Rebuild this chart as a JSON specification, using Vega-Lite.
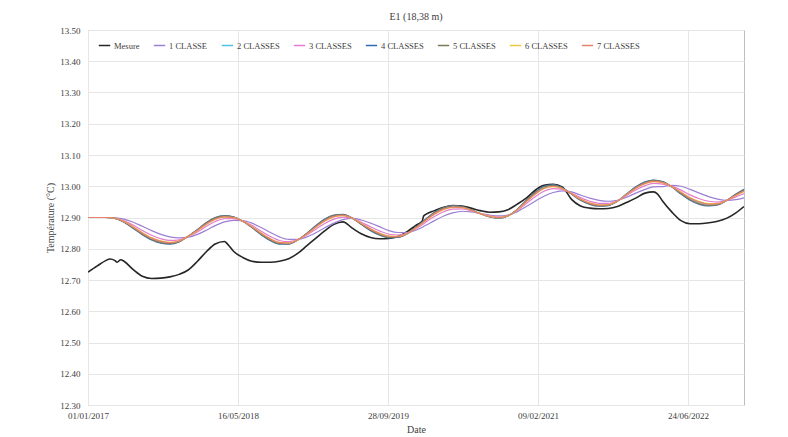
{
  "$schema": "https://vega.github.io/schema/vega-lite/v6.json",
  "width": 656,
  "height": 375,
  "autosize": "none",
  "padding": {"left": 88, "top": 30, "right": 44, "bottom": 32},
  "background": "white",
  "title": {"text": "E1 (18,38 m)", "font": "Liberation Serif", "fontSize": 10, "fontWeight": "normal", "color": "#404040", "offset": 4},
  "config": {
    "view": {"stroke": "#bfbfbf", "strokeWidth": 1},
    "axis": {"labelFont": "Liberation Serif", "labelFontSize": 9, "labelColor": "#404040", "titleFont": "Liberation Serif", "titleFontSize": 10, "titleFontWeight": "normal", "titleColor": "#404040", "gridColor": "#e6e6e6", "domainColor": "#bfbfbf", "ticks": false}
  },
  "data": {"values": [
    {"d":"2017-01-01","m":12.725,"c1":12.9,"c2":12.9,"c3":12.9,"c4":12.9,"c5":12.9,"c6":12.9,"c7":12.9},
    {"d":"2017-02-01","m":12.745,"c1":12.9,"c2":12.9,"c3":12.9,"c4":12.9,"c5":12.9,"c6":12.9,"c7":12.9},
    {"d":"2017-03-01","m":12.762,"c1":12.9,"c2":12.9,"c3":12.9,"c4":12.9,"c5":12.9,"c6":12.9,"c7":12.9},
    {"d":"2017-03-15","m":12.767},
    {"d":"2017-04-01","m":12.762,"c1":12.899,"c2":12.8973,"c3":12.898,"c4":12.897,"c5":12.8971,"c6":12.8975,"c7":12.8974},
    {"d":"2017-04-08","m":12.757},
    {"d":"2017-04-20","m":12.765},
    {"d":"2017-05-01","m":12.76,"c1":12.895,"c2":12.8865,"c3":12.89,"c4":12.885,"c5":12.8855,"c6":12.8875,"c7":12.887},
    {"d":"2017-06-01","m":12.733,"c1":12.885,"c2":12.868,"c3":12.875,"c4":12.865,"c5":12.866,"c6":12.87,"c7":12.869},
    {"d":"2017-07-01","m":12.712,"c1":12.872,"c2":12.849,"c3":12.8585,"c4":12.845,"c5":12.8464,"c6":12.8518,"c7":12.8504},
    {"d":"2017-08-01","m":12.705,"c1":12.858,"c2":12.8325,"c3":12.843,"c4":12.828,"c5":12.8295,"c6":12.8355,"c7":12.834},
    {"d":"2017-09-01","m":12.706,"c1":12.846,"c2":12.8222,"c3":12.832,"c4":12.818,"c5":12.8194,"c6":12.825,"c7":12.8236},
    {"d":"2017-10-01","m":12.71,"c1":12.838,"c2":12.8185,"c3":12.8265,"c4":12.815,"c5":12.8162,"c6":12.8208,"c7":12.8196},
    {"d":"2017-11-01","m":12.718,"c1":12.835,"c2":12.824,"c3":12.8285,"c4":12.822,"c5":12.8227,"c6":12.8253,"c7":12.8246},
    {"d":"2017-12-01","m":12.732,"c1":12.837,"c2":12.8396,"c3":12.8385,"c4":12.84,"c5":12.8399,"c6":12.8393,"c7":12.8394},
    {"d":"2018-01-01","m":12.76,"c1":12.846,"c2":12.8596,"c3":12.854,"c4":12.862,"c5":12.8612,"c6":12.858,"c7":12.8588},
    {"d":"2018-02-01","m":12.792,"c1":12.86,"c2":12.8813,"c3":12.8725,"c4":12.885,"c5":12.8838,"c6":12.8788,"c7":12.88},
    {"d":"2018-03-01","m":12.815,"c1":12.874,"c2":12.8961,"c3":12.887,"c4":12.9,"c5":12.8987,"c6":12.8935,"c7":12.8948},
    {"d":"2018-04-01","m":12.823,"c1":12.886,"c2":12.903,"c3":12.896,"c4":12.906,"c5":12.905,"c6":12.901,"c7":12.902},
    {"d":"2018-04-12","m":12.814},
    {"d":"2018-05-01","m":12.792,"c1":12.891,"c2":12.9004,"c3":12.8965,"c4":12.902,"c5":12.9015,"c6":12.8993,"c7":12.8998},
    {"d":"2018-06-01","m":12.772,"c1":12.89,"c2":12.8883,"c3":12.889,"c4":12.888,"c5":12.8881,"c6":12.8885,"c7":12.8884},
    {"d":"2018-07-01","m":12.76,"c1":12.882,"c2":12.8701,"c3":12.875,"c4":12.868,"c5":12.8687,"c6":12.8715,"c7":12.8708},
    {"d":"2018-08-01","m":12.757,"c1":12.868,"c2":12.8485,"c3":12.8565,"c4":12.845,"c5":12.8462,"c6":12.8508,"c7":12.8496},
    {"d":"2018-09-01","m":12.757,"c1":12.852,"c2":12.8299,"c3":12.839,"c4":12.826,"c5":12.8273,"c6":12.8325,"c7":12.8312},
    {"d":"2018-10-01","m":12.76,"c1":12.838,"c2":12.8185,"c3":12.8265,"c4":12.815,"c5":12.8162,"c6":12.8208,"c7":12.8196},
    {"d":"2018-11-01","m":12.768,"c1":12.83,"c2":12.8173,"c3":12.8225,"c4":12.815,"c5":12.8158,"c6":12.8188,"c7":12.818},
    {"d":"2018-12-01","m":12.785,"c1":12.83,"c2":12.8283,"c3":12.829,"c4":12.828,"c5":12.8281,"c6":12.8285,"c7":12.8284},
    {"d":"2019-01-01","m":12.81,"c1":12.838,"c2":12.8482,"c3":12.844,"c4":12.85,"c5":12.8494,"c6":12.847,"c7":12.8476},
    {"d":"2019-02-01","m":12.835,"c1":12.852,"c2":12.8716,"c3":12.8635,"c4":12.875,"c5":12.8739,"c6":12.8693,"c7":12.8704},
    {"d":"2019-03-01","m":12.857,"c1":12.867,"c2":12.8908,"c3":12.881,"c4":12.895,"c5":12.8936,"c6":12.888,"c7":12.8894},
    {"d":"2019-04-01","m":12.878,"c1":12.882,"c2":12.9041,"c3":12.895,"c4":12.908,"c5":12.9067,"c6":12.9015,"c7":12.9028},
    {"d":"2019-05-01","m":12.886,"c1":12.893,"c2":12.9075,"c3":12.9015,"c4":12.91,"c5":12.9092,"c6":12.9058,"c7":12.9066},
    {"d":"2019-06-01","m":12.866,"c1":12.897,"c2":12.8979,"c3":12.8975,"c4":12.898,"c5":12.898,"c6":12.8978,"c7":12.8978},
    {"d":"2019-07-01","m":12.848,"c1":12.892,"c2":12.8801,"c3":12.885,"c4":12.878,"c5":12.8787,"c6":12.8815,"c7":12.8808},
    {"d":"2019-08-01","m":12.836,"c1":12.882,"c2":12.8616,"c3":12.87,"c4":12.858,"c5":12.8592,"c6":12.864,"c7":12.8628},
    {"d":"2019-09-01","m":12.832,"c1":12.87,"c2":12.847,"c3":12.8565,"c4":12.843,"c5":12.8444,"c6":12.8498,"c7":12.8484},
    {"d":"2019-10-01","m":12.833,"c1":12.858,"c2":12.8385,"c3":12.8465,"c4":12.835,"c5":12.8362,"c6":12.8408,"c7":12.8396},
    {"d":"2019-11-01","m":12.84,"c1":12.852,"c2":12.8384,"c3":12.844,"c4":12.836,"c5":12.8368,"c6":12.84,"c7":12.8392},
    {"d":"2019-12-01","m":12.855,"c1":12.852,"c2":12.8486,"c3":12.85,"c4":12.848,"c5":12.8482,"c6":12.849,"c7":12.8488},
    {"d":"2020-01-01","m":12.876,"c1":12.86,"c2":12.8685,"c3":12.865,"c4":12.87,"c5":12.8695,"c6":12.8675,"c7":12.868},
    {"d":"2020-01-20","m":12.888},
    {"d":"2020-01-25","m":12.905},
    {"d":"2020-02-01","m":12.91,"c1":12.875,"c2":12.892,"c3":12.885,"c4":12.895,"c5":12.894,"c6":12.89,"c7":12.891},
    {"d":"2020-03-01","m":12.922,"c1":12.89,"c2":12.913,"c3":12.9035,"c4":12.917,"c5":12.9157,"c6":12.9103,"c7":12.9116},
    {"d":"2020-04-01","m":12.933,"c1":12.905,"c2":12.928,"c3":12.9185,"c4":12.932,"c5":12.9307,"c6":12.9253,"c7":12.9266},
    {"d":"2020-05-01","m":12.938,"c1":12.915,"c2":12.9346,"c3":12.9265,"c4":12.938,"c5":12.9369,"c6":12.9323,"c7":12.9334},
    {"d":"2020-06-01","m":12.937,"c1":12.92,"c2":12.9328,"c3":12.9275,"c4":12.935,"c5":12.9343,"c6":12.9313,"c7":12.932},
    {"d":"2020-07-01","m":12.93,"c1":12.918,"c2":12.924,"c3":12.9215,"c4":12.925,"c5":12.9247,"c6":12.9233,"c7":12.9236},
    {"d":"2020-08-01","m":12.922,"c1":12.913,"c2":12.9122,"c3":12.9125,"c4":12.912,"c5":12.912,"c6":12.9123,"c7":12.9122},
    {"d":"2020-09-01","m":12.917,"c1":12.908,"c2":12.9029,"c3":12.905,"c4":12.902,"c5":12.9023,"c6":12.9035,"c7":12.9032},
    {"d":"2020-10-01","m":12.918,"c1":12.905,"c2":12.8991,"c3":12.9015,"c4":12.898,"c5":12.8984,"c6":12.8998,"c7":12.8994},
    {"d":"2020-11-01","m":12.925,"c1":12.908,"c2":12.9055,"c3":12.9065,"c4":12.905,"c5":12.9052,"c6":12.9058,"c7":12.9056},
    {"d":"2020-12-01","m":12.942,"c1":12.918,"c2":12.924,"c3":12.9215,"c4":12.925,"c5":12.9247,"c6":12.9233,"c7":12.9236},
    {"d":"2021-01-01","m":12.962,"c1":12.935,"c2":12.952,"c3":12.945,"c4":12.955,"c5":12.954,"c6":12.95,"c7":12.951},
    {"d":"2021-02-01","m":12.988,"c1":12.953,"c2":12.9777,"c3":12.9675,"c4":12.982,"c5":12.9806,"c6":12.9748,"c7":12.9762},
    {"d":"2021-03-01","m":13.003,"c1":12.968,"c2":12.9952,"c3":12.984,"c4":13.0,"c5":12.9984,"c6":12.992,"c7":12.9936},
    {"d":"2021-04-01","m":13.006,"c1":12.98,"c2":13.0013,"c3":12.9925,"c4":13.005,"c5":13.0038,"c6":12.9988,"c7":13.0},
    {"d":"2021-05-01","m":12.998,"c1":12.985,"c2":12.9935,"c3":12.99,"c4":12.995,"c5":12.9945,"c6":12.9925,"c7":12.993},
    {"d":"2021-06-01","m":12.958,"c1":12.982,"c2":12.9761,"c3":12.9785,"c4":12.975,"c5":12.9754,"c6":12.9768,"c7":12.9764},
    {"d":"2021-07-01","m":12.937,"c1":12.972,"c2":12.9576,"c3":12.9635,"c4":12.955,"c5":12.9559,"c6":12.9593,"c7":12.9584},
    {"d":"2021-08-01","m":12.93,"c1":12.962,"c2":12.945,"c3":12.952,"c4":12.942,"c5":12.943,"c6":12.947,"c7":12.946},
    {"d":"2021-09-01","m":12.928,"c1":12.955,"c2":12.9389,"c3":12.9455,"c4":12.936,"c5":12.937,"c6":12.9408,"c7":12.9398},
    {"d":"2021-10-01","m":12.929,"c1":12.952,"c2":12.9401,"c3":12.945,"c4":12.938,"c5":12.9387,"c6":12.9415,"c7":12.9408},
    {"d":"2021-11-01","m":12.935,"c1":12.955,"c2":12.9525,"c3":12.9535,"c4":12.952,"c5":12.9522,"c6":12.9528,"c7":12.9526},
    {"d":"2021-12-01","m":12.948,"c1":12.965,"c2":12.9735,"c3":12.97,"c4":12.975,"c5":12.9745,"c6":12.9725,"c7":12.973},
    {"d":"2022-01-01","m":12.962,"c1":12.978,"c2":12.995,"c3":12.988,"c4":12.998,"c5":12.997,"c6":12.993,"c7":12.994},
    {"d":"2022-02-01","m":12.978,"c1":12.99,"c2":13.0104,"c3":13.002,"c4":13.014,"c5":13.0128,"c6":13.008,"c7":13.0092},
    {"d":"2022-03-01","m":12.982,"c1":12.998,"c2":13.0167,"c3":13.009,"c4":13.02,"c5":13.0189,"c6":13.0145,"c7":13.0156},
    {"d":"2022-03-15","m":12.975},
    {"d":"2022-04-01","m":12.952,"c1":12.999,"c2":13.0126,"c3":13.007,"c4":13.015,"c5":13.0142,"c6":13.011,"c7":13.0118},
    {"d":"2022-05-01","m":12.918,"c1":13.003,"c2":12.9988,"c3":13.0005,"c4":12.998,"c5":12.9983,"c6":12.9993,"c7":12.999},
    {"d":"2022-06-01","m":12.89,"c1":13.0,"c2":12.9788,"c3":12.9875,"c4":12.975,"c5":12.9763,"c6":12.9813,"c7":12.98},
    {"d":"2022-07-01","m":12.88,"c1":12.99,"c2":12.9603,"c3":12.9725,"c4":12.955,"c5":12.9568,"c6":12.9638,"c7":12.962},
    {"d":"2022-08-01","m":12.88,"c1":12.978,"c2":12.9474,"c3":12.96,"c4":12.942,"c5":12.9438,"c6":12.951,"c7":12.9492},
    {"d":"2022-09-01","m":12.883,"c1":12.967,"c2":12.9415,"c3":12.952,"c4":12.937,"c5":12.9385,"c6":12.9445,"c7":12.943},
    {"d":"2022-10-01","m":12.888,"c1":12.959,"c2":12.9429,"c3":12.9495,"c4":12.94,"c5":12.941,"c6":12.9448,"c7":12.9438},
    {"d":"2022-11-01","m":12.898,"c1":12.955,"c2":12.955,"c3":12.955,"c4":12.955,"c5":12.955,"c6":12.955,"c7":12.955},
    {"d":"2022-12-01","m":12.915,"c1":12.957,"c2":12.9723,"c3":12.966,"c4":12.975,"c5":12.9741,"c6":12.9705,"c7":12.9714},
    {"d":"2022-12-28","m":12.935,"c1":12.963,"c2":12.986,"c3":12.9765,"c4":12.99,"c5":12.9887,"c6":12.9833,"c7":12.9846}
  ]},
  "transform": [
    {"fold": ["m", "c1", "c2", "c3", "c4", "c5", "c6", "c7"], "as": ["s", "v"]},
    {"filter": "isValid(datum.v)"}
  ],
  "mark": {"type": "line", "interpolate": "monotone", "clip": true},
  "encoding": {
    "x": {
      "field": "d", "type": "temporal", "title": "Date",
      "scale": {"type": "utc", "domain": [{"year": 2017, "month": 1, "date": 1, "utc": true}, {"year": 2022, "month": 12, "date": 28, "utc": true}]},
      "axis": {
        "format": "%d/%m/%Y", "labelPadding": 6, "titlePadding": 4, "domain": false, "labelFlush": false,
        "values": [
          {"year": 2017, "month": 1, "date": 1, "utc": true},
          {"year": 2018, "month": 5, "date": 16, "utc": true},
          {"year": 2019, "month": 9, "date": 28, "utc": true},
          {"year": 2021, "month": 2, "date": 9, "utc": true},
          {"year": 2022, "month": 6, "date": 24, "utc": true}
        ]
      }
    },
    "y": {
      "field": "v", "type": "quantitative", "title": "Température (°C)",
      "scale": {"domain": [12.3, 13.5], "zero": false, "nice": false},
      "axis": {"format": ".2f", "values": [12.3, 12.4, 12.5, 12.6, 12.7, 12.8, 12.9, 13.0, 13.1, 13.2, 13.3, 13.4, 13.5], "labelPadding": 8, "titlePadding": 4, "domain": false}
    },
    "color": {
      "field": "s", "type": "nominal",
      "scale": {"domain": ["m", "c1", "c2", "c3", "c4", "c5", "c6", "c7"], "range": ["#262626", "#9b7fd4", "#4dc3e6", "#e57bd0", "#2f6eb5", "#7d7a5a", "#eccb3a", "#e8826e"]},
      "legend": {
        "orient": "none", "legendX": 10, "legendY": 9, "direction": "horizontal", "columns": 8, "title": null,
        "symbolType": "stroke", "symbolSize": 130, "symbolStrokeWidth": 1.5, "columnPadding": 10, "labelOffset": 3,
        "labelFont": "Liberation Serif", "labelFontSize": 8.5, "labelColor": "#404040",
        "labelExpr": "{'m':'Mesure','c1':'1 CLASSE','c2':'2 CLASSES','c3':'3 CLASSES','c4':'4 CLASSES','c5':'5 CLASSES','c6':'6 CLASSES','c7':'7 CLASSES'}[datum.label]"
      }
    },
    "strokeWidth": {
      "condition": {"test": "datum.s === 'm'", "value": 1.6},
      "value": 1.2
    }
  }
}
